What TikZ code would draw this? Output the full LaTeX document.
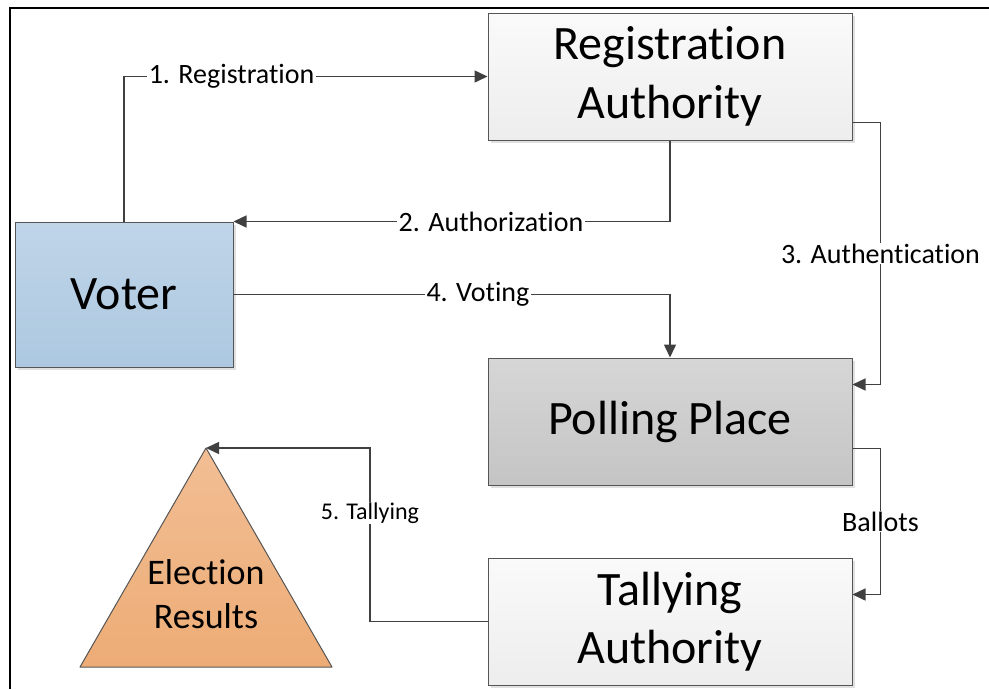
\documentclass[tikz,border=0pt]{standalone}
\usepackage{fontspec}
\setmainfont{Carlito}[Ligatures=NoCommon]
\usetikzlibrary{arrows.meta,calc,shadows}
\definecolor{linegray}{HTML}{404040}
\definecolor{edgegray}{HTML}{555555}
\tikzset{
  box/.style={draw=edgegray, line width=1pt, rectangle, minimum width=364pt,
    minimum height=127pt, inner sep=0pt, align=center, text=black,
    font=\fontsize{48}{58.5}\selectfont,
    drop shadow={shadow xshift=3pt, shadow yshift=-3pt, fill=black!12, opacity=1}},
  lightbox/.style={box, top color=white!98!black, bottom color=white!93!black},
  graybox/.style={box, top color=white!84!black, bottom color=white!77!black},
  bluebox/.style={box, minimum width=218pt, minimum height=145pt,
    top color={rgb,255:red,192;green,213;blue,232}, bottom color={rgb,255:red,172;green,200;blue,224}},
  conn/.style={draw=linegray, line width=1.5pt, -{Triangle[length=13pt,width=12pt]}},
  lbl/.style={fill=white, inner xsep=1.5pt, inner ysep=1pt, text=black,
    font=\fontsize{28}{34}\selectfont},
  smalllbl/.style={lbl, font=\fontsize{24}{29}\selectfont},
}
\begin{document}
\begin{tikzpicture}[x=1pt, y=-1pt]
  \useasboundingbox (0,0) rectangle (989,689);
  % page frame (top and left edges)
  \draw[black, line width=2pt] (10,689) -- (10,8) -- (989,8);

  % actors
  \node[lightbox] (reg)   at (670,76.5)  {Registration\\Authority};
  \node[bluebox]  (voter) at (124,294.5) {Voter};
  \node[graybox]  (poll)  at (670,421.5) {Polling Place};
  \node[lightbox] (tally) at (670,621.5) {Tallying\\Authority};

  % election results pyramid
  \coordinate (apex) at (206,448);
  \coordinate (baseL) at (80,667);
  \coordinate (baseR) at (332,667);
  \shade[top color={rgb,255:red,242;green,190;blue,148}, bottom color={rgb,255:red,237;green,172;blue,118}]
    (apex) -- (baseL) -- (baseR) -- cycle;
  \draw[edgegray, line width=1pt, line join=round] (apex) -- (baseL) -- (baseR) -- cycle;
  \node[align=center, font=\fontsize{36}{44}\selectfont] (results) at (206,594) {Election\\Results};

  % connector helper points
  \coordinate (regout)  at ($(reg.south east)+(0,-18)$);
  \coordinate (pollin)  at ($(poll.north east)+(0,27)$);
  \coordinate (pollout) at ($(poll.south east)+(0,-37)$);
  \coordinate (tallyin) at ($(tally.north east)+(0,37)$);
  \coordinate (bend5)   at (370,448);

  % flows
  \draw[conn] (voter.north) |- node[lbl, pos=0.648] {1. Registration} (reg.west);
  \draw[conn] (reg.south) |- node[lbl, pos=0.705] {2. Authorization} (voter.north east);
  \draw[conn] (regout) -- ++(28,0) |- node[lbl, pos=0.25] {3. Authentication} (pollin);
  \draw[conn] (voter.east) -| node[lbl, pos=0.28] {4. Voting} (poll.north);
  \draw[conn] (pollout) -- ++(28,0) |- node[lbl, pos=0.25] {Ballots} (tallyin);
  \draw[conn] (tally.west) -| node[smalllbl, pos=0.813] {5. Tallying} (bend5) -- (apex);
\end{tikzpicture}
\end{document}
